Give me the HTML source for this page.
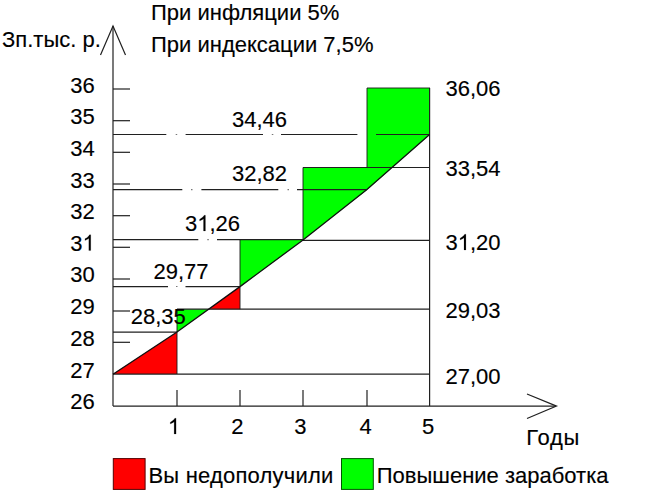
<!DOCTYPE html>
<html><head><meta charset="utf-8">
<style>
html,body{margin:0;padding:0;background:#fff;}
body{width:650px;height:494px;overflow:hidden;position:relative;font-family:"Liberation Sans",sans-serif;}
svg{position:absolute;left:0;top:0;}
text{font-family:"Liberation Sans",sans-serif;font-size:22px;fill:#000;stroke:#000;stroke-width:0.15px;}
</style></head><body>
<svg width="650" height="494" viewBox="0 0 650 494">
<rect width="650" height="494" fill="#fff"/>
<g stroke="none">
<polygon points="113,374 177,332 177,374" fill="#ff0000"/>
<polygon points="177,309.2 208.5,309.2 177,332" fill="#00ff00"/>
<polygon points="208.5,309.2 240,286.6 240,309.2" fill="#ff0000"/>
<polygon points="240,240 303,240 240,287" fill="#00ff00"/>
<polygon points="303,167.5 367,167.5 367,88 430,88 430,134.5 367,190 303,240" fill="#00ff00"/>
</g>
<g stroke="#202020" stroke-width="1.2" fill="none">
<line x1="113" y1="26" x2="113" y2="406"/>
<polyline points="100.5,55 113,26 125.5,55"/>
<line x1="113" y1="406.1" x2="556" y2="406.1"/>
<polyline points="527,394 556.5,406.1 527,418.5"/>
<line x1="429.6" y1="88" x2="429.6" y2="406"/>
<line x1="113" y1="89" x2="130" y2="89"/><line x1="113" y1="120.7" x2="130" y2="120.7"/><line x1="113" y1="152.3" x2="130" y2="152.3"/><line x1="113" y1="184" x2="130" y2="184"/><line x1="113" y1="215.7" x2="130" y2="215.7"/><line x1="113" y1="247.3" x2="130" y2="247.3"/><line x1="113" y1="279" x2="130" y2="279"/><line x1="113" y1="311" x2="130" y2="311"/><line x1="113" y1="342.3" x2="130" y2="342.3"/>
<line x1="177" y1="390" x2="177" y2="406"/><line x1="240" y1="390" x2="240" y2="406"/><line x1="303" y1="390" x2="303" y2="406"/><line x1="367" y1="390" x2="367" y2="406"/>
<line x1="113" y1="374.15" x2="430" y2="374.15"/>
<line x1="113" y1="332.2" x2="177" y2="332.2"/>
<line x1="177" y1="309.2" x2="430" y2="309.2"/>
<path d="M113,286.7H168M185.5,286.7H240"/>
<path d="M113,239.7H198.3M217,239.7H303M303,240.4H430"/>
<path d="M113,189.6H182.3M201.4,189.6H278.3M297,189.6H366.5"/>
<line x1="303" y1="167.5" x2="430" y2="167.5"/>
<path d="M113,134.5H166.3M185.6,134.5H263M281,134.5H357.4M376,134.5H430"/>
</g>
<g stroke="#777" stroke-width="1.2" fill="none">
<path d="M176,286.5h1.5M207.3,239.7h1.5M191,189.6h1.5M287.5,189.6h1.5M175.7,134.5h1.5M271.8,134.5h1.5"/>
</g>
<g stroke="#101010" stroke-width="1.3" fill="none"><polyline points="113,374.2 177,332 240,286.6 302.7,240.2 366.6,189.8 429.6,134.5"/></g>
<g stroke="#1a1a1a" stroke-width="0.9" fill="none">
<line x1="177" y1="309.2" x2="177" y2="374"/>
<line x1="240" y1="240" x2="240" y2="309.2"/>
<line x1="303" y1="167.5" x2="303" y2="240"/>
<polyline points="367,167.5 367,88 430,88"/>
</g>
<text transform="translate(151,19.5) scale(1,1.01)">При инфляции 5%</text>
<text transform="translate(151,51.7) scale(1,1.01)">При индексации 7,5%</text>
<text transform="translate(2,46.6) scale(1,1.01)">Зп.тыс. р.</text>
<g transform="translate(94.8,92.6) scale(1,1.04)"><text xml:space="preserve" x="-24.47 -12.24">36</text></g>
<g transform="translate(94.8,124) scale(1,1.04)"><text xml:space="preserve" x="-24.47 -12.24">35</text></g>
<g transform="translate(94.8,156.1) scale(1,1.04)"><text xml:space="preserve" x="-24.47 -12.24">34</text></g>
<g transform="translate(94.8,187.5) scale(1,1.04)"><text xml:space="preserve" x="-24.47 -12.24">33</text></g>
<g transform="translate(94.8,219.4) scale(1,1.04)"><text xml:space="preserve" x="-24.47 -12.24">32</text></g>
<g transform="translate(94.8,250.6) scale(1,1.04)"><text xml:space="preserve" x="-24.47 -12.24">3 </text><path d="M763 0H583V1147Q518 1085 412.5 1023T223 930V1104Q374 1175 487 1276T647 1472H763Z" transform="translate(-12.24,0) scale(0.01074,-0.01033)" fill="#000" stroke="#000" stroke-width="14.0"/></g>
<g transform="translate(94.8,282.3) scale(1,1.04)"><text xml:space="preserve" x="-24.47 -12.24">30</text></g>
<g transform="translate(94.8,314.4) scale(1,1.04)"><text xml:space="preserve" x="-24.47 -12.24">29</text></g>
<g transform="translate(94.8,346.2) scale(1,1.04)"><text xml:space="preserve" x="-24.47 -12.24">28</text></g>
<g transform="translate(94.8,377.8) scale(1,1.04)"><text xml:space="preserve" x="-24.47 -12.24">27</text></g>
<g transform="translate(94.8,409.2) scale(1,1.04)"><text xml:space="preserve" x="-24.47 -12.24">26</text></g>
<g transform="translate(445.5,96.3) scale(1,1.04)"><text xml:space="preserve" x="0.00 12.24 24.47 30.58 42.82">36,06</text></g>
<g transform="translate(445.5,176) scale(1,1.04)"><text xml:space="preserve" x="0.00 12.24 24.47 30.58 42.82">33,54</text></g>
<g transform="translate(445.5,250) scale(1,1.04)"><text xml:space="preserve" x="0.00 12.24 24.47 30.58 42.82">3 ,20</text><path d="M763 0H583V1147Q518 1085 412.5 1023T223 930V1104Q374 1175 487 1276T647 1472H763Z" transform="translate(12.24,0) scale(0.01074,-0.01033)" fill="#000" stroke="#000" stroke-width="14.0"/></g>
<g transform="translate(445.5,317.7) scale(1,1.04)"><text xml:space="preserve" x="0.00 12.24 24.47 30.58 42.82">29,03</text></g>
<g transform="translate(445.5,383.8) scale(1,1.04)"><text xml:space="preserve" x="0.00 12.24 24.47 30.58 42.82">27,00</text></g>
<g transform="translate(232,126.6) scale(1,1.04)"><text xml:space="preserve" x="0.00 12.24 24.47 30.58 42.82">34,46</text></g>
<g transform="translate(232,181.2) scale(1,1.04)"><text xml:space="preserve" x="0.00 12.24 24.47 30.58 42.82">32,82</text></g>
<g transform="translate(185,231) scale(1,1.04)"><text xml:space="preserve" x="0.00 12.24 24.47 30.58 42.82">3 ,26</text><path d="M763 0H583V1147Q518 1085 412.5 1023T223 930V1104Q374 1175 487 1276T647 1472H763Z" transform="translate(12.24,0) scale(0.01074,-0.01033)" fill="#000" stroke="#000" stroke-width="14.0"/></g>
<g transform="translate(153.5,278.8) scale(1,1.04)"><text xml:space="preserve" x="0.00 12.24 24.47 30.58 42.82">29,77</text></g>
<g transform="translate(130.7,323.8) scale(1,1.04)"><text xml:space="preserve" x="0.00 12.24 24.47 30.58 42.82">28,35</text></g>
<g transform="translate(174,434) scale(1,1.04)"><text xml:space="preserve" x="-6.12"> </text><path d="M763 0H583V1147Q518 1085 412.5 1023T223 930V1104Q374 1175 487 1276T647 1472H763Z" transform="translate(-6.12,0) scale(0.01074,-0.01033)" fill="#000" stroke="#000" stroke-width="14.0"/></g>
<g transform="translate(237.4,434) scale(1,1.04)"><text xml:space="preserve" x="-6.12">2</text></g>
<g transform="translate(300.4,434) scale(1,1.04)"><text xml:space="preserve" x="-6.12">3</text></g>
<g transform="translate(365.7,434) scale(1,1.04)"><text xml:space="preserve" x="-6.12">4</text></g>
<g transform="translate(428,434) scale(1,1.04)"><text xml:space="preserve" x="-6.12">5</text></g>
<text transform="translate(526.3,444.8) scale(1,1.01)" letter-spacing="0.7">Годы</text>
<text transform="translate(148.5,482.7) scale(1,1.01)" letter-spacing="0.2">Вы недополучили</text>
<text transform="translate(376.7,482.7) scale(1,1.01)">Повышение заработка</text>
<rect x="113.3" y="458.6" width="31.8" height="30.8" fill="#ff0000" stroke="#500" stroke-width="1"/>
<rect x="341.5" y="458.6" width="31.8" height="30.8" fill="#00ff00" stroke="#050" stroke-width="1"/>
</svg>
</body></html>
